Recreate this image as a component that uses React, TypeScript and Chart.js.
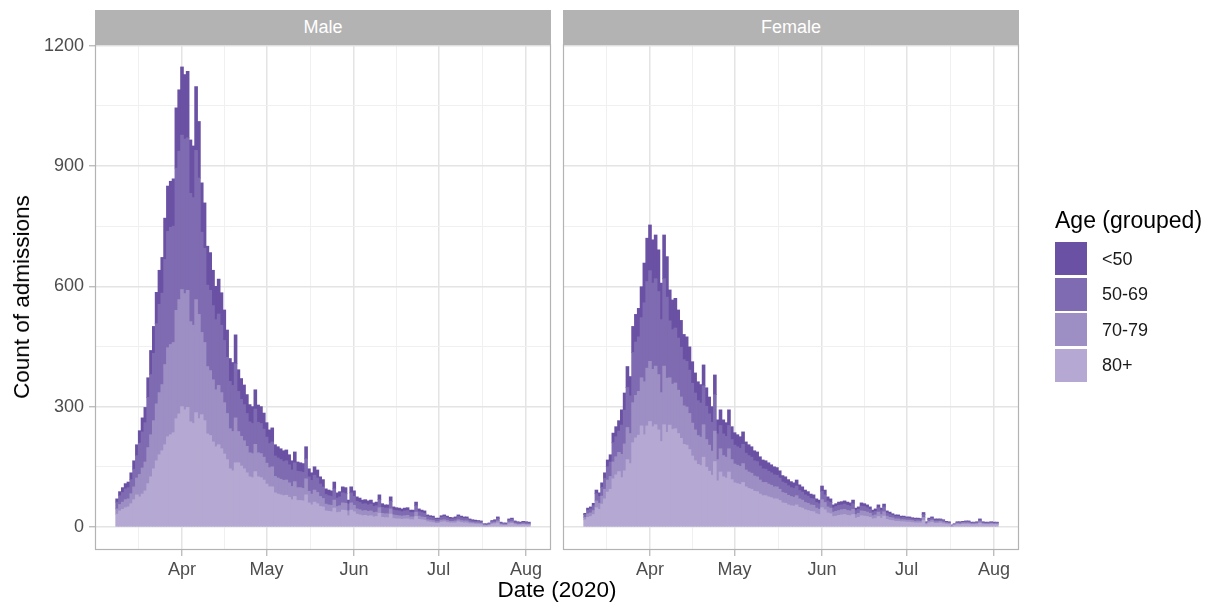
import React, { useEffect, useRef } from "react";
import { Chart, registerables } from "chart.js";

Chart.register(...registerables);

// ---- categories: daily bins, days counted from 2020-01-01 (Mar 9 = 68 ... Aug 2 = 214)
const FIRST_DAY = 68;
const LAST_DAY = 214;
const DAYS: number[] = Array.from({ length: LAST_DAY - FIRST_DAY + 1 }, (_, i) => FIRST_DAY + i);

// ---- axis ticks
const MONTH_TICK_DAYS = [91, 121, 152, 182, 213];
const MONTH_TICK_LABELS = ["Apr", "May", "Jun", "Jul", "Aug"];
const MINOR_X_DAYS = [75.5, 106, 136.5, 167, 197.5];
const Y_TICKS = [0, 300, 600, 900, 1200];
const MINOR_Y = [150, 450, 750, 1050];
const X_MIN = 60.15;
const X_MAX = 221.85;
const Y_MIN = -57.35;
const Y_MAX = 1204.35;

// ---- legend / series labels (top of stack first, as in the legend)
const AGE_GROUPS = ["<50", "50-69", "70-79", "80+"];
const AGE_COLORS = ["#6A51A3", "#7F6BB1", "#9D8EC4", "#B5A9D3"];

// ---- Male counts per day
const MALE_80 = [
  32, 40, 44, 48, 50, 58, 68, 80,
  75, 82, 90, 108, 125, 145, 165, 180, 190,
  205, 225, 230, 235, 270, 282, 300, 292, 298, 262, 258, 285, 270,
  280, 265, 232, 228, 212, 200, 205, 195, 182, 168, 145, 140, 160,
  160, 152, 145, 135, 125, 123, 138, 125, 123, 117, 107, 100, 100, 85, 82, 80, 78, 79, 74, 68, 76, 66, 66, 65, 80, 60, 55, 62, 58, 51,
  50, 40, 39, 38, 47, 36, 37, 42, 41, 28, 42, 38, 32, 30, 28, 29, 27, 28, 25, 26, 34, 24, 23, 23, 32, 21, 20, 20, 19, 20,
  20, 18, 18, 26, 19, 18, 17, 13, 12, 11, 9, 9, 12, 13, 11, 10, 10, 10, 13, 11, 10, 10, 8, 8, 7, 7, 6, 3, 3, 4,
  7, 8, 10, 5, 4, 4, 8, 9, 6, 5, 5, 6, 5, 5,
];
const MALE_70_79 = [
  13, 16, 18, 20, 20, 25, 32, 42,
  56, 65, 72, 90, 105, 120, 142, 155, 165,
  200, 222, 225, 225, 270, 285, 292, 290, 292, 250, 245, 282, 260,
  205, 195, 168, 162, 155, 142, 148, 140, 128, 115, 100, 98, 112,
  78, 74, 70, 66, 60, 60, 68, 60, 60, 57, 52, 48, 50, 41, 40, 39, 38, 38, 36, 33, 37, 32, 32, 31, 40, 29, 27, 30, 28, 25,
  21, 17, 16, 16, 20, 15, 16, 18, 18, 12, 18, 16, 13, 13, 12, 12, 12, 12, 11, 11, 14, 10, 10, 10, 13, 9, 9, 8, 8, 8,
  9, 7, 7, 11, 8, 7, 7, 5, 5, 5, 4, 4, 5, 5, 5, 4, 4, 5, 5, 5, 5, 5, 4, 3, 3, 3, 3, 2, 1, 2,
  3, 3, 5, 2, 2, 2, 4, 4, 3, 2, 2, 2, 2, 2,
];
const MALE_50_69 = [
  17, 22, 24, 27, 28, 35, 44, 56,
  78, 90, 98, 125, 150, 168, 200, 220, 228,
  262, 290, 292, 290, 355, 370, 385, 385, 380, 320, 318, 372, 340,
  250, 235, 203, 200, 185, 175, 178, 168, 155, 140, 118, 115, 135,
  100, 92, 90, 82, 77, 75, 88, 76, 75, 70, 65, 60, 62, 51, 50, 49, 47, 48, 45, 41, 47, 41, 40, 40, 50, 36, 34, 37, 36, 31,
  29, 24, 23, 22, 28, 21, 22, 25, 24, 17, 25, 22, 19, 18, 17, 17, 16, 17, 15, 16, 20, 15, 14, 14, 19, 12, 12, 12, 11, 12,
  12, 11, 11, 16, 11, 11, 10, 8, 7, 7, 6, 6, 7, 8, 7, 6, 6, 6, 8, 7, 6, 6, 5, 4, 4, 4, 4, 2, 2, 3,
  4, 4, 6, 3, 3, 2, 5, 6, 4, 4, 3, 4, 4, 3,
];
const MALE_U50 = [
  8, 10, 12, 13, 14, 17, 21, 27,
  31, 35, 38, 49, 60, 67, 78, 85, 89,
  103, 113, 115, 118, 150, 153, 170, 161, 166, 133, 129, 159, 141,
  123, 113, 97, 94, 88, 83, 87, 81, 76, 68, 57, 57, 72,
  54, 52, 49, 47, 43, 42, 48, 43, 42, 40, 36, 34, 35, 28, 28, 27, 27, 27, 25, 23, 27, 23, 22, 22, 30, 20, 19, 21, 20, 18,
  18, 14, 14, 14, 17, 13, 13, 15, 15, 10, 15, 14, 11, 11, 10, 10, 10, 10, 9, 9, 12, 9, 8, 8, 11, 8, 7, 7, 7, 7,
  7, 6, 6, 9, 7, 6, 6, 4, 4, 4, 3, 3, 4, 4, 4, 4, 3, 4, 4, 4, 4, 4, 3, 3, 3, 2, 2, 1, 2, 1,
  2, 3, 4, 2, 1, 2, 3, 3, 2, 2, 2, 2, 2, 2,
];

// ---- Female counts per day
const FEMALE_80 = [
  18, 24, 26, 31, 48, 44, 57, 70, 87, 94, 120, 130, 138,
  123, 140, 168, 158, 210, 222, 229, 252,
  230, 252, 263, 250, 255, 242, 213, 255, 236,
  254, 243, 245, 233, 221, 206, 204, 193, 177, 165, 156, 153, 174, 149, 139, 129, 163, 115,
  137, 125, 122, 137, 118, 110, 108, 106, 111, 100,
  96, 94, 89, 88, 82, 78, 78, 75, 73, 70,
  70, 66, 60, 59, 55, 53, 52, 55, 49, 47,
  43, 41, 39, 38, 33, 31, 48, 43, 35, 33,
  26, 27, 29, 30, 31, 29, 28, 31, 22, 24,
  28, 27, 26, 24, 20, 21, 26, 22, 27, 19,
  17, 16, 14, 14, 13, 13, 12, 12, 11, 10,
  10, 10, 17, 6, 10, 12, 9, 9, 10, 8,
  7, 6, 2, 4, 6, 6, 7, 7, 7, 6,
  6, 6, 9, 6, 6, 6, 6, 6, 6,
];
const FEMALE_70_79 = [
  6, 9, 9, 10, 17, 15, 20, 24, 30, 32, 42, 45, 48,
  58, 67, 80, 75, 100, 106, 109, 120,
  132, 144, 150, 143, 146, 138, 122, 146, 135,
  118, 113, 114, 108, 103, 96, 95, 90, 82, 77, 72, 71, 81, 69, 65, 60, 76, 53,
  58, 53, 52, 58, 50, 47, 46, 45, 47, 42,
  41, 40, 38, 37, 35, 33, 33, 32, 31, 30,
  30, 28, 26, 25, 24, 23, 22, 23, 21, 20,
  18, 18, 16, 16, 14, 13, 20, 18, 15, 14,
  11, 12, 12, 13, 13, 12, 12, 13, 9, 10,
  12, 12, 11, 10, 8, 9, 11, 9, 11, 8,
  7, 7, 6, 6, 5, 5, 5, 5, 5, 4,
  5, 4, 7, 3, 4, 5, 4, 4, 4, 4,
  3, 3, 1, 2, 3, 2, 3, 3, 3, 2,
  2, 3, 4, 3, 2, 2, 3, 2, 2,
];
const FEMALE_50_69 = [
  7, 9, 10, 12, 18, 17, 22, 27, 33, 36, 48, 50, 53,
  73, 84, 100, 94, 125, 133, 136, 150,
  197, 216, 226, 215, 218, 207, 182, 218, 202,
  142, 136, 137, 130, 124, 115, 114, 108, 99, 92, 87, 85, 97, 83, 78, 72, 91, 64,
  58, 54, 52, 58, 50, 47, 46, 45, 48, 42,
  41, 40, 38, 38, 35, 34, 33, 32, 31, 30,
  29, 28, 26, 25, 24, 22, 22, 24, 21, 20,
  19, 18, 16, 16, 14, 14, 21, 19, 15, 14,
  11, 12, 13, 12, 13, 13, 12, 14, 10, 10,
  12, 12, 11, 10, 9, 9, 11, 10, 12, 8,
  8, 6, 6, 6, 5, 6, 5, 5, 4, 5,
  4, 4, 7, 2, 5, 5, 4, 4, 4, 4,
  2, 2, 1, 1, 2, 3, 2, 3, 3, 2,
  3, 2, 4, 2, 2, 3, 2, 2, 3,
];
const FEMALE_U50 = [
  3, 5, 5, 6, 9, 9, 11, 14, 17, 18, 24, 25, 26,
  38, 43, 52, 48, 65, 69, 71, 77,
  99, 108, 114, 108, 109, 104, 91, 109, 101,
  77, 74, 74, 70, 67, 63, 61, 58, 54, 50, 47, 46, 52, 46, 42, 39, 49, 35,
  39, 35, 34, 39, 32, 31, 30, 29, 31, 28,
  27, 26, 25, 24, 23, 22, 21, 21, 20, 20,
  19, 18, 16, 16, 15, 15, 14, 15, 14, 13,
  12, 11, 11, 10, 9, 9, 13, 12, 10, 9,
  7, 7, 8, 8, 8, 8, 8, 9, 6, 6,
  8, 7, 7, 6, 5, 6, 7, 6, 7, 5,
  5, 4, 4, 4, 4, 3, 3, 3, 3, 3,
  3, 3, 5, 2, 3, 3, 3, 3, 2, 2,
  2, 2, 1, 1, 2, 2, 2, 2, 2, 2,
  1, 2, 3, 2, 2, 1, 2, 2, 1,
];

// series in legend order (<50, 50-69, 70-79, 80+)
const MALE_SERIES = [MALE_U50, MALE_50_69, MALE_70_79, MALE_80];
const FEMALE_SERIES = [FEMALE_U50, FEMALE_50_69, FEMALE_70_79, FEMALE_80];

const FONT = '"Liberation Sans", Arial, Helvetica, sans-serif';
const GRID_MAJOR = "#E4E4E4";
const GRID_MINOR = "#F0F0F0";
const BORDER = "#B3B3B3";

const isIn = (arr: number[], v: number) => arr.some((a) => Math.abs(a - v) < 1e-6);

const panelBorder = {
  id: "panelBorder",
  afterDraw(chart: any) {
    const { ctx, chartArea } = chart;
    ctx.save();
    ctx.strokeStyle = BORDER;
    ctx.lineWidth = 1.2;
    ctx.strokeRect(chartArea.left + 0.5, chartArea.top + 0.5, chartArea.right - chartArea.left - 1, chartArea.bottom - chartArea.top - 1);
    ctx.restore();
  },
};

function buildConfig(series: number[][], isLeft: boolean, padLeft: number, padRight: number): any {
  // stack bottom-up: 80+ first, <50 last (on top)
  const datasets = [3, 2, 1, 0].map((gi) => ({
    label: AGE_GROUPS[gi],
    data: DAYS.map((d, j) => ({ x: d, y: series[gi][j] })),
    backgroundColor: AGE_COLORS[gi],
    borderWidth: 0,
    barPercentage: 1,
    categoryPercentage: 1,
    inflateAmount: 0.4,
  }));
  return {
    type: "bar",
    data: { datasets },
    options: {
      responsive: false,
      animation: false,
      devicePixelRatio: 1,
      events: [],
      layout: { padding: { left: padLeft, right: padRight, top: 44, bottom: 0 } },
      plugins: { legend: { display: false }, tooltip: { enabled: false }, title: { display: false } },
      scales: {
        x: {
          type: "linear",
          stacked: true,
          min: X_MIN,
          max: X_MAX,
          offset: false,
          afterBuildTicks: (s: any) => {
            s.ticks = [...MINOR_X_DAYS, ...MONTH_TICK_DAYS].sort((a, b) => a - b).map((v) => ({ value: v }));
          },
          afterFit: (s: any) => {
            s.height = 58;
          },
          border: { display: false },
          grid: {
            offset: false,
            color: (c: any) => (c.tick && isIn(MONTH_TICK_DAYS, c.tick.value) ? GRID_MAJOR : GRID_MINOR),
            lineWidth: (c: any) => (c.tick && isIn(MONTH_TICK_DAYS, c.tick.value) ? 1.5 : 1),
            tickColor: (c: any) => (c.tick && isIn(MONTH_TICK_DAYS, c.tick.value) ? BORDER : "rgba(0,0,0,0)"),
            tickLength: 6,
            tickWidth: 1.2,
            drawTicks: true,
          },
          ticks: {
            autoSkip: false,
            maxRotation: 0,
            minRotation: 0,
            padding: 3,
            color: "#4D4D4D",
            font: { family: FONT, size: 18 },
            callback: (v: number) => {
              const i = MONTH_TICK_DAYS.findIndex((d) => Math.abs(d - v) < 1e-6);
              return i >= 0 ? MONTH_TICK_LABELS[i] : "";
            },
          },
        },
        y: {
          type: "linear",
          stacked: true,
          min: Y_MIN,
          max: Y_MAX,
          afterBuildTicks: (s: any) => {
            s.ticks = [...MINOR_Y, ...Y_TICKS].sort((a, b) => a - b).map((v) => ({ value: v }));
          },
          afterFit: (s: any) => {
            s.width = isLeft ? 95 : 0;
          },
          border: { display: false },
          grid: {
            color: (c: any) => (c.tick && isIn(Y_TICKS, c.tick.value) ? GRID_MAJOR : GRID_MINOR),
            lineWidth: (c: any) => (c.tick && isIn(Y_TICKS, c.tick.value) ? 1.5 : 1),
            tickColor: (c: any) => (c.tick && isIn(Y_TICKS, c.tick.value) ? BORDER : "rgba(0,0,0,0)"),
            tickLength: 6,
            tickWidth: 1.2,
            drawTicks: isLeft,
          },
          ticks: {
            display: isLeft,
            autoSkip: false,
            padding: 5,
            color: "#4D4D4D",
            font: { family: FONT, size: 18 },
            callback: (v: number) => (isIn(Y_TICKS, v) ? String(v) : ""),
          },
        },
      },
    },
    plugins: [panelBorder],
  };
}

const STRIPS = [
  { label: "Male", left: 95, width: 456 },
  { label: "Female", left: 563, width: 456 },
];

export default function App() {
  const maleRef = useRef<HTMLCanvasElement>(null);
  const femaleRef = useRef<HTMLCanvasElement>(null);

  useEffect(() => {
    const c1 = new Chart(maleRef.current as HTMLCanvasElement, buildConfig(MALE_SERIES, true, 0, 656));
    const c2 = new Chart(femaleRef.current as HTMLCanvasElement, buildConfig(FEMALE_SERIES, false, 563, 188));
    return () => {
      c1.destroy();
      c2.destroy();
    };
  }, []);

  const canvasStyle: React.CSSProperties = { position: "absolute", left: 0, top: 0, width: 1207, height: 608 };

  return (
    <div
      style={{
        position: "fixed",
        left: 0,
        top: 0,
        width: 1207,
        height: 608,
        background: "#ffffff",
        overflow: "hidden",
        fontFamily: FONT,
      }}
    >
      <canvas ref={maleRef} width={1207} height={608} style={canvasStyle} />
      <canvas ref={femaleRef} width={1207} height={608} style={canvasStyle} />

      {STRIPS.map((s) => (
        <div
          key={s.label}
          style={{
            position: "absolute",
            left: s.left,
            top: 10,
            width: s.width,
            height: 34,
            background: BORDER,
            color: "#ffffff",
            fontSize: 18,
            lineHeight: "34px",
            textAlign: "center",
          }}
        >
          {s.label}
        </div>
      ))}

      <div
        style={{
          position: "absolute",
          left: 22,
          top: 297,
          transform: "translate(-50%, -50%) rotate(-90deg)",
          whiteSpace: "nowrap",
          fontSize: 22.5,
          color: "#000",
        }}
      >
        Count of admissions
      </div>
      <div
        style={{
          position: "absolute",
          left: 557,
          top: 590,
          transform: "translate(-50%, -50%)",
          whiteSpace: "nowrap",
          fontSize: 22.5,
          color: "#000",
        }}
      >
        Date (2020)
      </div>

      <div
        style={{
          position: "absolute",
          left: 1055,
          top: 220,
          transform: "translateY(-50%)",
          whiteSpace: "nowrap",
          fontSize: 23,
          color: "#000",
        }}
      >
        Age (grouped)
      </div>
      {AGE_GROUPS.map((g, i) => (
        <React.Fragment key={g}>
          <div
            style={{
              position: "absolute",
              left: 1055,
              top: 242 + i * 35.5,
              width: 32,
              height: 33,
              background: AGE_COLORS[i],
            }}
          />
          <div
            style={{
              position: "absolute",
              left: 1102,
              top: 258.5 + i * 35.5,
              transform: "translateY(-50%)",
              whiteSpace: "nowrap",
              fontSize: 18,
              color: "#1a1a1a",
            }}
          >
            {g}
          </div>
        </React.Fragment>
      ))}
    </div>
  );
}
